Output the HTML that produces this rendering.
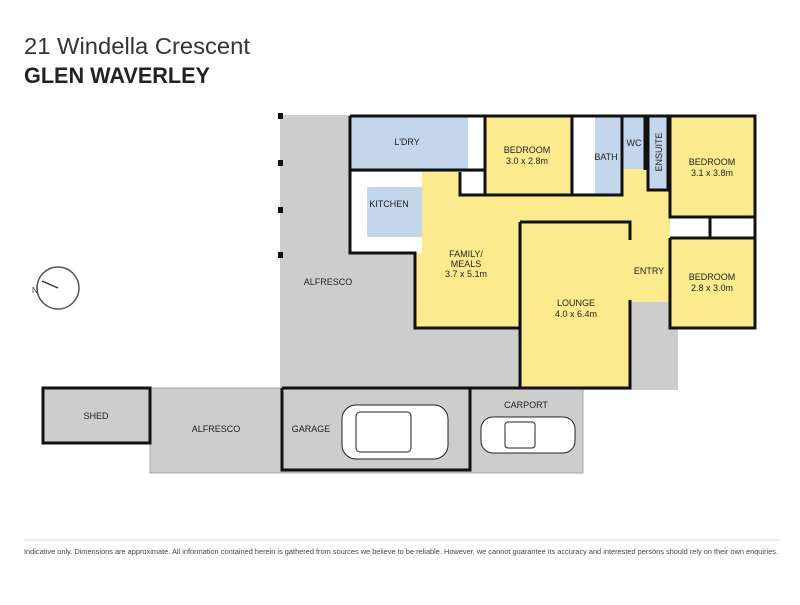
<!DOCTYPE html>
<html><head><style>
body{margin:0;background:#fff;width:800px;height:600px;overflow:hidden;font-family:"Liberation Sans",sans-serif}
</style></head><body>
<svg width="800" height="600" viewBox="0 0 800 600" xmlns="http://www.w3.org/2000/svg" font-family="Liberation Sans, sans-serif">
<text x="24" y="54" font-size="23" fill="#333" textLength="226" lengthAdjust="spacingAndGlyphs">21 Windella Crescent</text>
<text x="24" y="83" font-size="22" fill="#222" font-weight="bold" textLength="186" lengthAdjust="spacingAndGlyphs">GLEN WAVERLEY</text>

<!-- gray alfresco / base -->
<rect x="280" y="115" width="350" height="275" fill="#cdcdcd"/>
<rect x="628" y="300" width="50" height="90" fill="#cdcdcd"/>
<!-- bottom row -->
<rect x="150" y="388" width="433" height="85" fill="#cdcdcd" stroke="#aaa"/>
<rect x="44" y="388" width="106" height="55" fill="#cdcdcd"/>

<!-- rooms -->
<rect x="350" y="117" width="118" height="52" fill="#c3d6ec"/>
<rect x="468" y="117" width="17" height="52" fill="#fff"/>
<rect x="350" y="172" width="72" height="81" fill="#fff"/>
<rect x="367" y="187" width="55" height="50" fill="#c3d6ec"/>
<polygon points="422,172 460,172 460,195 670,195 670,302 630,302 630,222 520,222 520,328 415,328 415,253 422,253" fill="#fbeb8e"/>
<rect x="622" y="168" width="48" height="30" fill="#fbeb8e"/>
<rect x="460" y="172" width="25" height="23" fill="#fff"/>
<rect x="485" y="117" width="85" height="78" fill="#fbeb8e"/>
<rect x="572" y="117" width="23" height="78" fill="#fff"/>
<rect x="595" y="117" width="27" height="78" fill="#c3d6ec"/>
<rect x="623" y="117" width="22" height="52" fill="#c3d6ec"/>
<rect x="648" y="117" width="20" height="72" fill="#c3d6ec"/>
<rect x="670" y="117" width="85" height="100" fill="#fbeb8e"/>
<rect x="670" y="218" width="85" height="20" fill="#fff"/>
<rect x="670" y="238" width="85" height="90" fill="#fbeb8e"/>
<rect x="522" y="222" width="108" height="166" fill="#fbeb8e"/>

<!-- walls -->
<g fill="none" stroke="#111" stroke-width="3">
<path d="M350 116 H755 V328 H670 V302"/>
<path d="M350 116 V253 H415 V328 H520"/>
<path d="M350 170 H485"/>
<path d="M485 116 V195 H460 V172"/>
<path d="M485 195 H572 M572 116 V195 H622 V116"/>
<path d="M645 116 V170 M668 116 V190 H648 V116"/>
<path d="M670 116 V217 H755 M670 238 H755 M670 238 V328 M710 217 V238"/>
<path d="M520 222 V388 H630 V300 M520 222 H630 V240"/>
<path d="M282 388 H630 M43 388 H150 V443 H43 Z"/>
<path d="M282 388 V470 H470 V388"/>
</g>
<g fill="#111"><rect x="278" y="113" width="5" height="6"/><rect x="278" y="160" width="5" height="6"/><rect x="278" y="207" width="5" height="6"/><rect x="278" y="252" width="5" height="6"/></g>

<g font-size="9" fill="#222" text-anchor="middle">
<text x="407" y="145">L'DRY</text>
<text x="389" y="207">KITCHEN</text>
<text x="527" y="153">BEDROOM</text><text x="527" y="164">3.0 x 2.8m</text>
<text x="606" y="160">BATH</text>
<text x="634" y="146">WC</text>
<text x="662" y="152" transform="rotate(-90 662 152)">ENSUITE</text>
<text x="712" y="165">BEDROOM</text><text x="712" y="176">3.1 x 3.8m</text>
<text x="712" y="280">BEDROOM</text><text x="712" y="291">2.8 x 3.0m</text>
<text x="649" y="274">ENTRY</text>
<text x="466" y="257">FAMILY/</text><text x="466" y="267">MEALS</text><text x="466" y="277">3.7 x 5.1m</text>
<text x="576" y="306">LOUNGE</text><text x="576" y="317">4.0 x 6.4m</text>
<text x="328" y="285">ALFRESCO</text>
<text x="96" y="419">SHED</text>
<text x="216" y="432">ALFRESCO</text>
<text x="311" y="432">GARAGE</text>
<text x="526" y="408">CARPORT</text>
</g>

<g fill="#fff" stroke="#222" stroke-width="1">
<rect x="342" y="405" width="106" height="54" rx="14"/>
<rect x="356" y="412" width="55" height="40" rx="4"/>
<rect x="481" y="417" width="94" height="36" rx="12"/>
<rect x="505" y="422" width="30" height="26" rx="3"/>
</g>

<circle cx="58" cy="288" r="21" fill="#fff" stroke="#555" stroke-width="1.5"/>
<line x1="58" y1="288" x2="42" y2="281" stroke="#333" stroke-width="1.5"/>
<text x="32" y="293" font-size="8" fill="#333">N</text>

<line x1="24" y1="540" x2="780" y2="540" stroke="#ddd"/>
<text x="24" y="554" font-size="7" fill="#444" textLength="754" lengthAdjust="spacingAndGlyphs">Indicative only. Dimensions are approximate. All information contained herein is gathered from sources we believe to be reliable. However, we cannot guarantee its accuracy and interested persons should rely on their own enquiries.</text>
</svg>
</body></html>
